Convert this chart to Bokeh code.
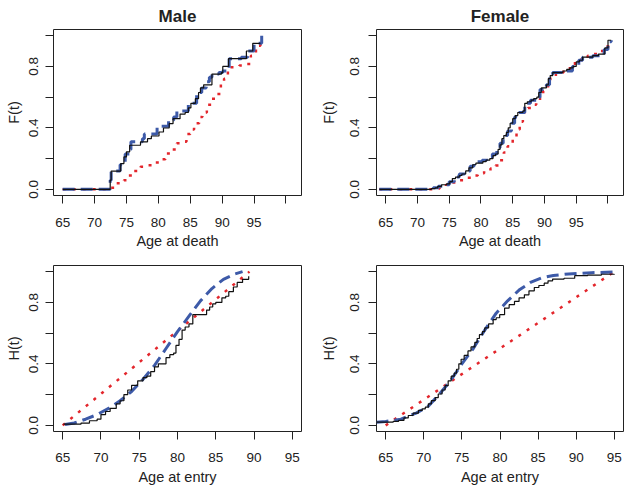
from bokeh.plotting import figure
from bokeh.layouts import gridplot
from bokeh.models import FixedTicker, CustomJSTickFormatter, Range1d
from bokeh.embed import file_html
from bokeh.resources import INLINE

FONT = "Liberation Sans"
BLUE = "#3D5AA8"
RED = "#E3262C"
BLACK = "#111111"

# ---------------- data ----------------
# Male, F(t) vs age at death
male_death_emp_x = [65, 72.45, 72.6, 74.1, 74.6, 75.0, 75.5, 77.2, 78.3, 78.9, 80.1, 80.8, 81.7, 82.3, 83.4,
                    84.2, 84.7, 85.1, 85.8, 86.3, 86.6, 87.1, 88.4, 89.9, 90.1, 91.0, 93.8, 94.8, 96.0]
male_death_emp_y = [0, 0.06, 0.119, 0.168, 0.211, 0.244, 0.287, 0.309, 0.33, 0.347, 0.373, 0.399, 0.427, 0.46,
                    0.49, 0.50, 0.53, 0.56, 0.59, 0.63, 0.66, 0.68, 0.75, 0.76, 0.80, 0.85, 0.90, 0.95, 0.95]
male_death_fit1_x = [65, 72.45, 72.6, 74.0, 74.8, 75.5, 75.7, 77.5, 77.8, 79.8, 81.6, 82.4, 82.9, 84.7, 86.0,
                     86.8, 87.5, 88.0, 88.4, 89.5, 90.1, 91.1, 93.0, 94.0, 95.0, 96.2]
male_death_fit1_y = [0, 0.06, 0.12, 0.16, 0.23, 0.26, 0.309, 0.33, 0.36, 0.41, 0.45, 0.47, 0.51, 0.56, 0.63,
                     0.66, 0.70, 0.73, 0.75, 0.76, 0.77, 0.85, 0.86, 0.90, 0.95, 1.0]
male_death_fit2_x = [65, 72.5, 73.3, 74.6, 75.3, 76.2, 77.2, 78.3, 79.3, 80.1, 81.1, 82.0, 82.9, 83.6, 84.4,
                     85.0, 85.6, 86.4, 86.9, 87.6, 88.4, 89.2, 89.8, 90.3, 90.9, 92.7, 93.7, 94.5, 95.3, 96.0]
male_death_fit2_y = [0, 0.01, 0.039, 0.06, 0.09, 0.12, 0.147, 0.157, 0.175, 0.196, 0.233, 0.26, 0.3, 0.31, 0.36,
                     0.39, 0.43, 0.47, 0.5, 0.55, 0.59, 0.62, 0.69, 0.72, 0.795, 0.806, 0.816, 0.87, 0.935, 0.978]

# Female, F(t) vs age at death
female_death_emp_x = [64, 72.2, 72.8, 73.2, 73.8, 74.6, 75.1, 75.5, 76.0, 76.6, 77.0, 77.6, 78.1, 78.7, 79.2,
                      80.3, 80.8, 81.4, 81.9, 82.3, 82.7, 83.0, 83.3, 83.6, 84.0, 84.3, 84.6, 85.0, 85.4, 85.8,
                      86.6, 86.9, 87.3, 87.9, 88.3, 88.8, 89.1, 89.5, 90.3, 90.6, 90.9, 91.3, 92.9, 93.5, 94.0,
                      94.5, 95.0, 95.5, 96.0, 97.6, 98.5, 99.4, 99.5, 100.0, 100.5]
female_death_emp_y = [0, 0.005, 0.01, 0.02, 0.03, 0.035, 0.05, 0.07, 0.08, 0.09, 0.1, 0.12, 0.14, 0.16, 0.17,
                      0.18, 0.19, 0.2, 0.22, 0.23, 0.26, 0.29, 0.33, 0.35, 0.37, 0.4, 0.43, 0.46, 0.48, 0.5,
                      0.51, 0.56, 0.57, 0.58, 0.59, 0.6, 0.63, 0.66, 0.68, 0.72, 0.74, 0.76, 0.77, 0.78, 0.79,
                      0.8, 0.83, 0.84, 0.86, 0.87, 0.88, 0.88, 0.92, 0.97, 0.97]
female_death_fit1_x = [64, 72.5, 73.3, 74.2, 75.0, 75.8, 76.6, 77.4, 78.3, 78.9, 80.2, 80.9, 81.8, 82.5, 83.0,
                       83.5, 84.2, 84.8, 85.3, 86.0, 86.9, 87.8, 88.7, 89.3, 90.3, 90.8, 91.3, 92.9, 94.4, 95.4,
                       96.0, 97.6, 99.4, 100.0, 100.5]
female_death_fit1_y = [0, 0.01, 0.02, 0.03, 0.05, 0.08, 0.1, 0.12, 0.15, 0.18, 0.19, 0.21, 0.23, 0.27, 0.3,
                       0.35, 0.38, 0.43, 0.47, 0.5, 0.56, 0.58, 0.6, 0.65, 0.68, 0.74, 0.76, 0.77, 0.8, 0.84,
                       0.86, 0.87, 0.91, 0.96, 0.97]
female_death_fit2_x = [64, 72.8, 73.5, 74.5, 75.5, 76.5, 77.5, 78.5, 79.5, 80.5, 81.5, 82.3, 83.0, 83.6, 84.2,
                       85.0, 85.6, 86.1, 86.6, 87.4, 88.2, 88.7, 89.3, 89.8, 90.4, 90.9, 91.8, 93.0, 94.0, 94.8,
                       95.8, 96.8, 97.8, 98.7, 99.5, 100.3]
female_death_fit2_y = [0, 0.005, 0.015, 0.03, 0.045, 0.06, 0.075, 0.09, 0.105, 0.12, 0.135, 0.155, 0.19, 0.24,
                       0.28, 0.34, 0.39, 0.44, 0.5, 0.53, 0.55, 0.57, 0.6, 0.64, 0.67, 0.72, 0.76, 0.78, 0.8,
                       0.83, 0.85, 0.87, 0.88, 0.9, 0.93, 0.97]

# Male, H(t) vs age at entry
male_entry_emp_x = [65.1, 67.4, 68.5, 69.5, 70.0, 70.6, 71.2, 72.0, 72.5, 73.0, 73.5, 74.0, 74.8, 75.5, 76.0,
                    76.5, 77.0, 77.5, 78.5, 79.0, 79.5, 79.8, 80.2, 80.6, 81.0, 81.5, 82.0, 83.8, 84.2, 84.6,
                    85.0, 85.8, 86.3, 86.7, 87.3, 87.8, 88.5, 89.3]
male_entry_emp_y = [0.008, 0.015, 0.03, 0.04, 0.07, 0.09, 0.11, 0.14, 0.16, 0.2, 0.23, 0.26, 0.29, 0.31, 0.32,
                    0.35, 0.38, 0.4, 0.44, 0.46, 0.47, 0.52, 0.56, 0.62, 0.64, 0.66, 0.72, 0.75, 0.77, 0.79,
                    0.8, 0.83, 0.84, 0.87, 0.9, 0.93, 0.95, 0.97]
male_entry_fit1_x = [65.3, 66.5, 68.0, 69.5, 71.0, 72.5, 74.0, 75.5, 77.0, 78.5, 80.0, 81.5, 83.0, 84.5, 86.0,
                     87.5, 88.5]
male_entry_fit1_y = [0.005, 0.015, 0.04, 0.07, 0.11, 0.16, 0.22, 0.3, 0.39, 0.5, 0.61, 0.71, 0.81, 0.89, 0.95,
                     0.985, 1.0]
male_entry_fit2_x = [65.0, 89.4]
male_entry_fit2_y = [0.0, 1.0]

# Female, H(t) vs age at entry
female_entry_emp_x = [63.8, 65.35, 66.0, 66.7, 67.4, 67.97, 68.6, 69.3, 69.8, 70.2, 70.6, 71.0, 71.5, 71.9,
                      72.4, 72.8, 73.2, 73.6, 74.0, 74.3, 74.6, 74.9, 75.3, 75.8, 76.2, 76.7, 77.0, 77.3, 77.7,
                      78.0, 78.5, 79.1, 79.5, 79.96, 80.6, 81.2, 81.9, 82.5, 83.2, 83.8, 84.5, 85.1, 85.8, 86.3,
                      86.9, 88.4, 89.8, 91.5, 93.3, 95.0]
female_entry_emp_y = [0.021, 0.021, 0.026, 0.032, 0.048, 0.064, 0.08, 0.097, 0.107, 0.118, 0.14, 0.161, 0.18,
                      0.204, 0.23, 0.258, 0.29, 0.32, 0.34, 0.365, 0.4, 0.43, 0.455, 0.484, 0.51, 0.54, 0.565,
                      0.59, 0.61, 0.634, 0.66, 0.688, 0.7, 0.72, 0.763, 0.785, 0.806, 0.83, 0.849, 0.875, 0.897,
                      0.91, 0.925, 0.94, 0.952, 0.957, 0.974, 0.978, 0.983, 0.985]
female_entry_fit1_x = [63.8, 65.0, 67.0, 69.0, 70.5, 72.0, 73.5, 75.0, 76.5, 78.0, 79.5, 81.0, 82.5, 84.0, 85.5,
                       87.0, 89.0, 92.0, 95.0]
female_entry_fit1_y = [0.02, 0.025, 0.04, 0.08, 0.12, 0.2, 0.29, 0.4, 0.5, 0.62, 0.73, 0.81, 0.88, 0.93, 0.96,
                       0.975, 0.985, 0.993, 0.998]
female_entry_fit2_x = [65.0, 95.0]
female_entry_fit2_y = [0.0, 1.0]

death_ticks = [65, 70, 75, 80, 85, 90, 95, 100]
entry_ticks = [65, 70, 75, 80, 85, 90, 95]
y_ticks = [0, 0.2, 0.4, 0.6, 0.8, 1.0]


def make(title, xlabel, ylabel, xr, xticks, w, h, bl, br, bt, bb, x_std, x_lab_std, y_std, y_lab_std):
    p = figure(width=w, height=h, output_backend="svg", toolbar_location=None,
               x_range=Range1d(*xr), y_range=Range1d(-0.04, 1.04),
               min_border_left=bl, min_border_right=br, min_border_top=bt, min_border_bottom=bb,
               title=title)
    p.grid.visible = False
    p.outline_line_color = "#222222"
    p.outline_line_width = 1
    p.background_fill_color = "white"
    p.border_fill_color = "white"
    if title:
        p.title.text_font = FONT
        p.title.text_font_size = "17px"
        p.title.text_font_style = "bold"
        p.title.align = "center"
        p.title.vertical_align = "top"
        p.title.text_color = "#222222"
        p.title.standoff = 4
    for ax in (p.xaxis[0], p.yaxis[0]):
        ax.axis_line_color = None
        ax.major_tick_line_color = "#222222"
        ax.major_tick_out = 8
        ax.major_tick_in = 0
        ax.minor_tick_line_color = None
        ax.major_label_text_font = FONT
        ax.major_label_text_font_size = "13.5px"
        ax.major_label_text_color = "#222222"
        ax.axis_label_text_font = FONT
        ax.axis_label_text_font_size = "14.5px"
        ax.axis_label_text_font_style = "normal"
        ax.axis_label_text_color = "#222222"
    p.xaxis.ticker = FixedTicker(ticks=xticks)
    p.xaxis.formatter = CustomJSTickFormatter(code="return tick >= 100 ? '' : tick.toFixed(0);")
    p.xaxis.axis_label = xlabel
    p.xaxis.major_label_standoff = x_std
    p.xaxis.axis_label_standoff = x_lab_std
    p.yaxis.ticker = FixedTicker(ticks=y_ticks)
    p.yaxis.formatter = CustomJSTickFormatter(
        code="return (Math.round(tick * 10) % 4 === 0) ? tick.toFixed(1) : '';")
    p.yaxis.major_label_orientation = "vertical"
    p.yaxis.axis_label = ylabel
    p.yaxis.major_label_standoff = y_std
    p.yaxis.axis_label_standoff = y_lab_std
    return p


top_xr = (63.56, 102.44)
bot_xr = (63.8, 96.2)

p1 = make("Male", "Age at death", "F(t)", top_xr, death_ticks, 312, 252, 53, 11, 29, 57, 14, 3, 7, 5)
p2 = make("Female", "Age at death", "F(t)", top_xr, death_ticks, 313, 252, 64, 2, 29, 57, 14, 3, 9, 11)
p3 = make(None, "Age at entry", "H(t)", bot_xr, entry_ticks, 312, 236, 53, 11, 13, 57, 13, 4, 7, 5)
p4 = make(None, "Age at entry", "H(t)", bot_xr, entry_ticks, 313, 236, 64, 2, 13, 57, 13, 4, 9, 11)

RED_DASH = "3 7"
BLUE_DASH = "12 6"


def draw_step(p, ex, ey, f1x, f1y, f2x, f2y):
    p.step(f2x, f2y, mode="after", line_color=RED, line_width=2.5, line_dash=RED_DASH)
    p.step(f1x, f1y, mode="after", line_color=BLUE, line_width=3, line_dash=BLUE_DASH)
    p.step(ex, ey, mode="after", line_color=BLACK, line_width=1.2)


def draw_smooth(p, ex, ey, f1x, f1y, f2x, f2y):
    p.line(f2x, f2y, line_color=RED, line_width=2.5, line_dash=RED_DASH)
    p.line(f1x, f1y, line_color=BLUE, line_width=3, line_dash=BLUE_DASH)
    p.step(ex, ey, mode="after", line_color=BLACK, line_width=1.2)


draw_step(p1, male_death_emp_x, male_death_emp_y, male_death_fit1_x, male_death_fit1_y,
          male_death_fit2_x, male_death_fit2_y)
draw_step(p2, female_death_emp_x, female_death_emp_y, female_death_fit1_x, female_death_fit1_y,
          female_death_fit2_x, female_death_fit2_y)
draw_smooth(p3, male_entry_emp_x, male_entry_emp_y, male_entry_fit1_x, male_entry_fit1_y,
            male_entry_fit2_x, male_entry_fit2_y)
draw_smooth(p4, female_entry_emp_x, female_entry_emp_y, female_entry_fit1_x, female_entry_fit1_y,
            female_entry_fit2_x, female_entry_fit2_y)

grid = gridplot([[p1, p2], [p3, p4]], toolbar_location=None)

open("out.html", "w").write(file_html(grid, INLINE))
